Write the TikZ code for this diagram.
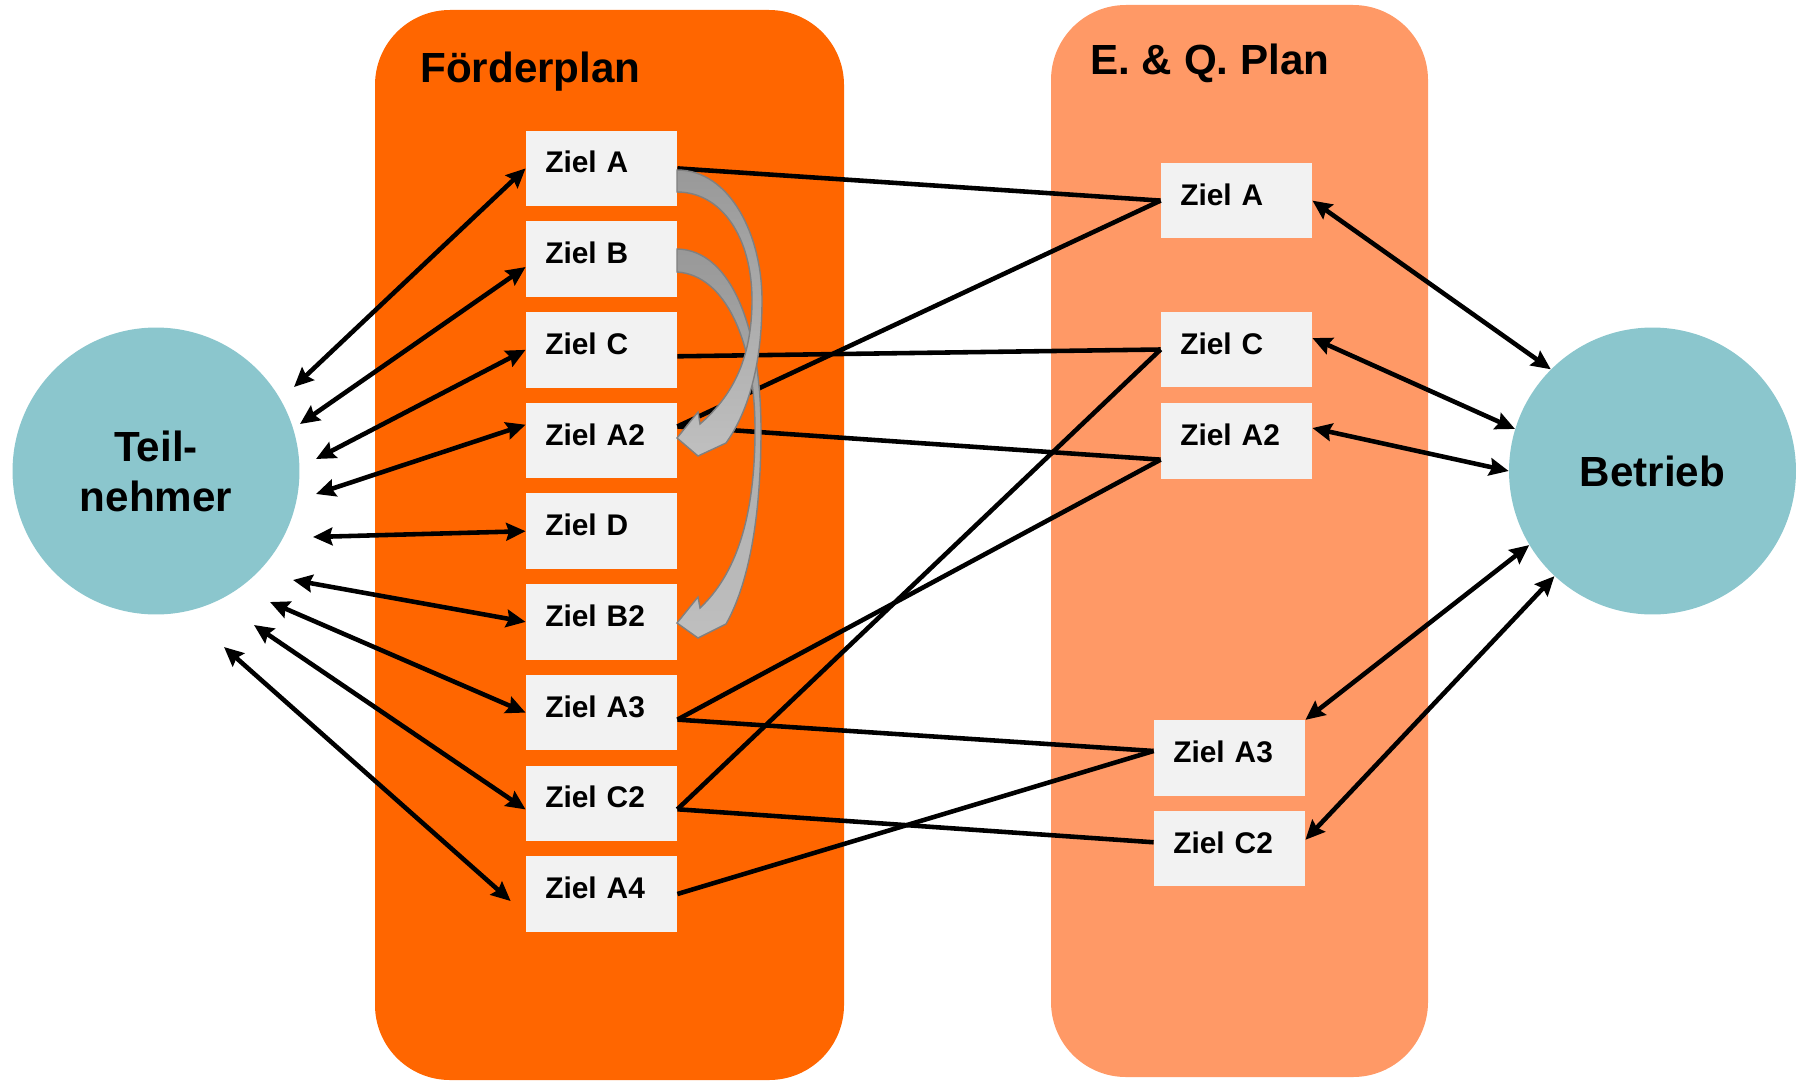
\documentclass[tikz,border=0pt]{standalone}
\usepackage{fontspec}
\setmainfont{Liberation Sans}
\usetikzlibrary{arrows.meta}
\definecolor{foerder}{HTML}{FF6600}
\definecolor{eqplan}{HTML}{FF9966}
\definecolor{tuerkis}{HTML}{8BC6CD}
\definecolor{zielgrau}{HTML}{F2F2F2}
\begin{document}
\begin{tikzpicture}[x=0.02cm, y=-0.02cm, >={Stealth[length=11pt,width=10pt,inset=1.5pt]},
	ziel/.style={fill=zielgrau, minimum width=86pt, minimum height=43pt, text width=64pt,
		inner xsep=11pt, align=left, text height=12.2pt, text depth=7pt,
		font=\fontsize{17}{20}\selectfont\bfseries},
	kreis/.style={circle, fill=tuerkis, minimum size=5.74cm, inner sep=0pt, align=center,
		font=\fontsize{24}{28.5}\selectfont\bfseries},
	titel/.style={anchor=base west, inner sep=0pt, font=\fontsize{24}{28}\selectfont\bfseries},
	linie/.style={line width=2.6pt},
	pfeil/.style={<->, line width=2.6pt},
	bogen/.style={top color=gray!80, bottom color=gray!50, draw=gray, line width=0.8pt}]
		\useasboundingbox (0,0) rectangle (1797,1081);
		
		% --- 1. Hintergrund: die beiden Pläne ---
		\fill[foerder, rounded corners=1.5cm] (375,10) rectangle (844,1080);
		\fill[eqplan, rounded corners=1.5cm] (1051,5) rectangle (1428,1077);
		\node[titel] (tF) at (420,83) {Förderplan};
		\node[titel] (tEQ) at (1090,75) {E. \& Q. Plan};
		
		% --- 2. Teilnehmer und Betrieb ---
		\node[kreis] (Tn) at (156,471) {Teil-\\nehmer};
		\node[kreis] (Be) at (1652.5,471) {Betrieb};
		
		% --- 3. Ziele im Förderplan ---
		\node[ziel] (lA)  at (601.5,168.4) {Ziel A};
		\node[ziel] (lB)  at (601.5,259.1) {Ziel B};
		\node[ziel] (lC)  at (601.5,349.8) {Ziel C};
		\node[ziel] (lA2) at (601.5,440.5) {Ziel A2};
		\node[ziel] (lD)  at (601.5,531.2) {Ziel D};
		\node[ziel] (lB2) at (601.5,621.9) {Ziel B2};
		\node[ziel] (lA3) at (601.5,712.6) {Ziel A3};
		\node[ziel] (lC2) at (601.5,803.3) {Ziel C2};
		\node[ziel] (lA4) at (601.5,894.0) {Ziel A4};
		
		% --- 4. Ziele im E. & Q. Plan ---
		\node[ziel] (rA)  at (1236.5,200.6) {Ziel A};
		\node[ziel] (rC)  at (1236.5,349.5) {Ziel C};
		\node[ziel] (rA2) at (1236.5,441.2) {Ziel A2};
		\node[ziel] (rA3) at (1229.5,758.0) {Ziel A3};
		\node[ziel] (rC2) at (1229.5,848.6) {Ziel C2};
		
		% Anschlusspunkte der Linien (leicht versetzt)
		\coordinate (lA2o) at ([yshift=8pt]lA2.east);
		\coordinate (lCo)  at ([yshift=-3.7pt]lC.east);
		\coordinate (lA3o) at ([yshift=-4pt]lA3.east);
		\coordinate (lC2o) at ([yshift=-3.4pt]lC2.east);
		\coordinate (rA2w) at ([yshift=-10.5pt]rA2.west);
		\coordinate (rA3w) at ([yshift=4pt]rA3.west);
		\coordinate (rC2w) at ([yshift=3.6pt]rC2.west);
		
		% --- 5. Verbindungen zwischen den Plänen ---
		\draw[linie] (lA.east) -- (rA.west);
		\draw[linie] (rA.west) -- (lA2o);
		\draw[linie] (lCo) -- (rC.west);
		\draw[linie] (rC.west) -- (lC2o);
		\draw[linie] (lA2o) -- (rA2w);
		\draw[linie] (rA2w) -- (lA3o);
		\draw[linie] (lA3o) -- (rA3w);
		\draw[linie] (rA3w) -- (lA4.east);
		\draw[linie] (lC2o) -- (rC2w);
		
		% --- 6. Pfeile zum Teilnehmer ---
		\coordinate (t1) at (294,387);
		\coordinate (t2) at (300,424);
		\coordinate (t3) at (316,459);
		\coordinate (t4) at (316,494);
		\coordinate (t5) at (313,537);
		\coordinate (t6) at (293,580);
		\coordinate (t7) at (270,602);
		\coordinate (t8) at (254,625);
		\coordinate (t9) at (224,647);
		\draw[pfeil] (t1) -- (lA.west);
		\draw[pfeil] (t2) -- ([yshift=-4.5pt]lB.west);
		\draw[pfeil] (t3) -- (lC.west);
		\draw[pfeil] (t4) -- ([yshift=9pt]lA2.west);
		\draw[pfeil] (t5) -- (lD.west);
		\draw[pfeil] (t6) -- (lB2.west);
		\draw[pfeil] (t7) -- (lA3.west);
		\draw[pfeil] (t8) -- ([yshift=-3.5pt]lC2.west);
		\draw[pfeil] (t9) -- ([xshift=-8.5pt,yshift=-4pt]lA4.west);
		
		% --- 7. Pfeile zum Betrieb ---
		\draw[pfeil] (rA.east) -- (Be.135);
		\draw[pfeil] ([yshift=6.5pt]rC.east) -- (Be.163);
		\draw[pfeil] ([yshift=7.5pt]rA2.east) -- (Be.180);
		\draw[pfeil] (rA3.north east) -- (Be.211);
		\draw[pfeil] ([yshift=5pt]rC2.east) -- (Be.227);
		
		% --- 8. Gebogene graue Pfeile (B -> B2, A -> A2) ---
		\shadedraw[bogen] (677,249) .. controls (732,250) and (761,330) .. (761,430)
			.. controls (761,520) and (748,585) .. (726,624)
			-- (698,638) -- (677,623) -- (698,597) -- (700,608)
			.. controls (735,575) and (755,520) .. (755,430)
			.. controls (755,340) and (725,275) .. (677,272) -- cycle;
		\shadedraw[bogen] (677,170) .. controls (730,170) and (762,235) .. (762,300)
			.. controls (762,370) and (746,415) .. (726,443)
			-- (698,456) -- (677,438) -- (698,412) -- (700,424)
			.. controls (730,398) and (752,362) .. (752,300)
			.. controls (752,238) and (722,192) .. (677,192) -- cycle;
	\end{tikzpicture}
\end{document}
